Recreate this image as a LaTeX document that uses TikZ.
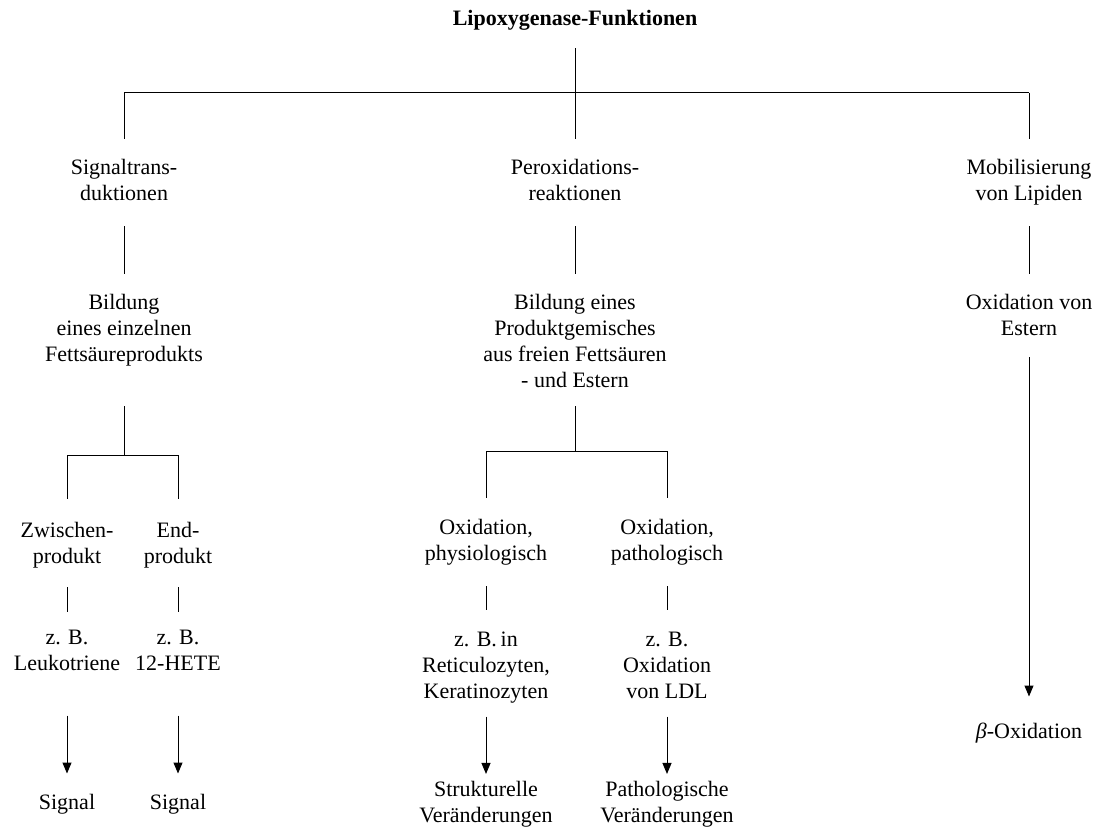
\documentclass[tikz,border=0pt]{standalone}
\usepackage{fontspec}
\setmainfont{Liberation Serif}
\usetikzlibrary{arrows.meta}
\tikzset{every picture/.style={line width=1pt}}
\tikzset{
  lbl/.style={align=center, inner sep=0pt, font=\fontsize{22}{26}\selectfont,
    execute at begin node=\strut, execute at end node=\strut},
  arr/.style={-{Triangle[length=11pt,width=9pt]}}
}
\begin{document}
\begin{tikzpicture}[x=1pt,y=-1pt]
\useasboundingbox (0,0) rectangle (1096,829);
\node[lbl,font=\fontsize{22}{26}\selectfont\bfseries] (t) at (575,20) {Lipoxygenase-Funktionen};
%
\coordinate (j0) at (575,93);
\coordinate (j1) at (124,93);
\coordinate (j3) at (1029,93);
\node[lbl] (sig) at (124,184) {Signaltrans-\\duktionen};
\node[lbl] (per) at (575,184) {Peroxidations-\\reaktionen};
\node[lbl] (mob) at (1029,184) {Mobilisierung\\von Lipiden};
%
\node[lbl] (bil1) at (124,332) {Bildung\\eines einzelnen\\Fettsäureprodukts};
\node[lbl] (bil2) at (575,345) {Bildung eines\\Produktgemisches\\aus freien Fettsäuren\\- und Estern};
\node[lbl] (oxe) at (1029,319) {Oxidation von\\Estern};
%
\coordinate (k0) at (124,455);
\coordinate (k1) at (67,455);
\coordinate (k2) at (178,455);
\coordinate (q0) at (575,451);
\coordinate (q1) at (486,451);
\coordinate (q2) at (667,451);
%
\node[lbl] (zw) at (67,547) {Zwischen-\\produkt};
\node[lbl] (ep) at (178,547) {End-\\produkt};
\node[lbl] (ox1) at (486,544) {Oxidation,\\physiologisch};
\node[lbl] (ox2) at (667,544) {Oxidation,\\pathologisch};
%
\node[lbl] (zb1) at (67,654) {z. B.\\Leukotriene};
\node[lbl] (zb2) at (178,654) {z. B.\\12-HETE};
\node[lbl] (zb3) at (486,669) {z. B.\,in\\Reticulozyten,\\Keratinozyten};
\node[lbl] (zb4) at (667,669) {z. B.\\Oxidation\\von LDL};
%
\node[lbl] (sg1) at (67,804) {Signal};
\node[lbl] (sg2) at (178,804) {Signal};
\node[lbl] (str) at (486,806) {Strukturelle\\Veränderungen};
\node[lbl] (pat) at (667,806) {Pathologische\\Veränderungen};
\node[lbl] (bet) at (1029,733) {{\itshape β}-Oxidation};
%
\draw (j1) to (j3);
\draw (k1) to (k2);
\draw (q1) to (q2);
%
\foreach \Source/\Target/\Start/\End in {%
        t/j0/15/0,
        j1/sig/0/20, j0/per/0/20, j3/mob/0/20,
        sig/bil1/17/20, per/bil2/17/20, mob/oxe/17/20,
        bil1/k0/36/0, bil2/q0/10/0,
        k1/zw/0/23, k2/ep/0/23, q1/ox1/0/21, q2/ox2/0/21,
        zw/zb1/15/17, ep/zb2/15/17, ox1/zb3/17/21, ox2/zb4/17/21%
    }
\draw[shorten <=\Start pt, shorten >=\End pt] (\Source) to (\Target);
%
\foreach \Source/\Target/\Start/\End in {%
        zb1/sg1/37/17, zb2/sg2/37/17,
        zb3/str/10/7, zb4/pat/10/7,
        oxe/bet/13/23%
    }
\draw[arr, shorten <=\Start pt, shorten >=\End pt] (\Source) to (\Target);
\end{tikzpicture}
\end{document}
